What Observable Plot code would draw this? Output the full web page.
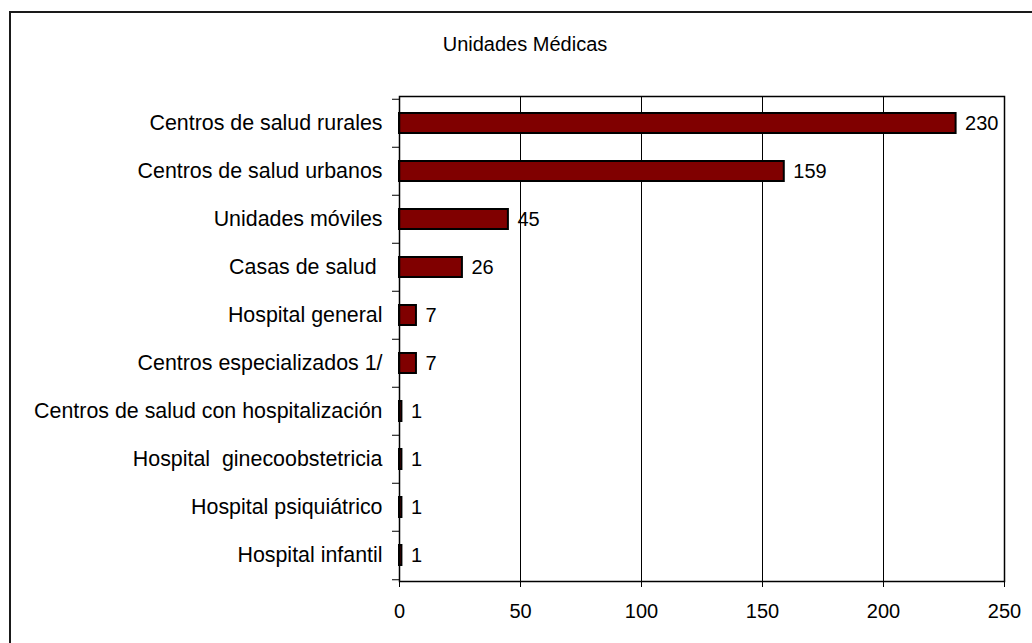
<!DOCTYPE html>
<html>
<head>
<meta charset="utf-8">
<script src="https://cdn.jsdelivr.net/npm/d3@7"></script>
<script src="https://cdn.jsdelivr.net/npm/@observablehq/plot@0.6"></script>
<style>
  body { margin: 0; background: #fff; }
  #wrap { position: relative; width: 1032px; height: 643px; overflow: hidden;
          font-family: Arial, "Liberation Sans", sans-serif; color: #000; }
  #frame { position: absolute; left: 9px; top: 11px; width: 1060px; height: 680px;
           border: 2px solid #1a1a1a; box-sizing: border-box; }
  #title { position: absolute; left: 0; width: 1050px; top: 34px; line-height: 20px;
           text-align: center; font-size: 20px; }
  #chart { position: absolute; left: 0; top: 0; }
  #chart svg text { white-space: pre; }
</style>
</head>
<body>
<div id="wrap">
  <div id="frame"></div>
  <div id="title">Unidades Médicas</div>
  <div id="chart"></div>
</div>
<script>
// Medical units by type
const categories = [
  "Centros de salud rurales",
  "Centros de salud urbanos",
  "Unidades móviles",
  "Casas de salud ",
  "Hospital general",
  "Centros especializados 1/",
  "Centros de salud con hospitalización",
  "Hospital  ginecoobstetricia",
  "Hospital psiquiátrico",
  "Hospital infantil"
];
const values = [230, 159, 45, 26, 7, 7, 1, 1, 1, 1];
const xTicks = [0, 50, 100, 150, 200, 250];

const data = categories.map((c, i) => ({unidad: c, total: values[i]}));

const marginTop = 96, marginBottom = 62;
const height = 643;
const step = (height - marginTop - marginBottom) / categories.length;

const chart = Plot.plot({
  width: 1032,
  height,
  marginLeft: 399,
  marginRight: 28,
  marginTop,
  marginBottom,
  style: {fontFamily: 'Arial, "Liberation Sans", sans-serif', fontSize: "20px", color: "#000", background: "transparent", overflow: "visible"},
  x: {domain: [0, 250]},
  y: {domain: categories, padding: 0},
  marks: [
    Plot.gridX(xTicks.slice(1), {stroke: "#000", strokeOpacity: 1, strokeWidth: 1}),
    Plot.barX(data, {x: "total", y: "unidad", fill: "#800000", stroke: "#000", strokeWidth: 2, insetTop: 14, insetBottom: 14}),
    Plot.frame({stroke: "#000", strokeWidth: 1.5}),
    Plot.axisX(xTicks, {tickSize: 6, tickPadding: 16, fontSize: 20, label: null, stroke: "#000"}),
    Plot.axisY({tickSize: 0, tickPadding: 17, fontSize: 21.4, label: null}),
    Plot.axisY(categories, {text: null, tickSize: 7, dy: -step / 2, label: null, stroke: "#000"}),
    Plot.axisY([categories[categories.length - 1]], {text: null, tickSize: 7, dy: step / 2, label: null, stroke: "#000"}),
    Plot.text(data, {x: "total", y: "unidad", text: d => String(d.total), dx: 9, textAnchor: "start", fontSize: 20, fill: "#000"})
  ]
});

document.getElementById("chart").appendChild(chart);
</script>
</body>
</html>
